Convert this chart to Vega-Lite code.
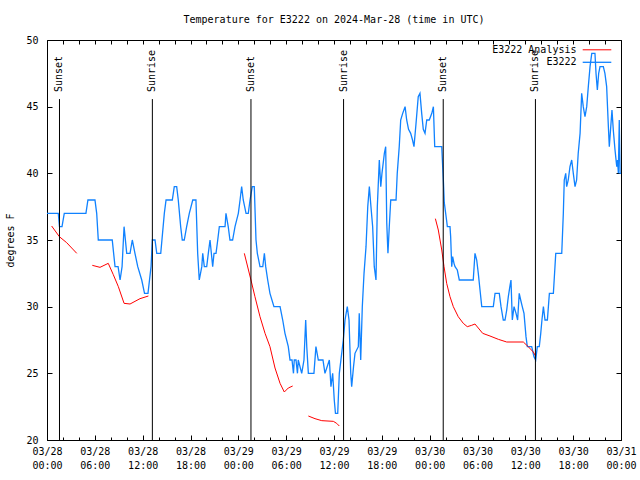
{
  "$schema": "https://vega.github.io/schema/vega-lite/v6.json",
  "width": 574,
  "height": 400,
  "autosize": "none",
  "padding": {"left": 47, "top": 40, "right": 19, "bottom": 40},
  "background": "white",
  "title": {"text": "Temperature for E3222 on 2024-Mar-28 (time in UTC)", "font": "DejaVu Sans Mono", "fontSize": 10, "fontWeight": "normal", "color": "black", "offset": 10, "anchor": "middle"},
  "config": {
    "view": {"stroke": "black", "strokeWidth": 1},
    "axis": {"labelFont": "DejaVu Sans Mono", "labelFontSize": 10, "labelColor": "black", "titleFont": "DejaVu Sans Mono", "titleFontSize": 10, "titleFontWeight": "normal", "titleColor": "black", "domain": false, "grid": false, "tickColor": "black"},
    "legend": {"labelFont": "DejaVu Sans Mono", "labelFontSize": 10, "labelColor": "black"}
  },
  "datasets": {
    "temps": [
      {"t": "2024-03-28T00:00Z", "temp": 37, "series": "E3222", "seg": "b"},
      {"t": "2024-03-28T01:25Z", "temp": 37, "series": "E3222", "seg": "b"},
      {"t": "2024-03-28T01:34Z", "temp": 36, "series": "E3222", "seg": "b"},
      {"t": "2024-03-28T01:53Z", "temp": 36, "series": "E3222", "seg": "b"},
      {"t": "2024-03-28T02:10Z", "temp": 37, "series": "E3222", "seg": "b"},
      {"t": "2024-03-28T04:53Z", "temp": 37, "series": "E3222", "seg": "b"},
      {"t": "2024-03-28T05:08Z", "temp": 38, "series": "E3222", "seg": "b"},
      {"t": "2024-03-28T06:01Z", "temp": 38, "series": "E3222", "seg": "b"},
      {"t": "2024-03-28T06:14Z", "temp": 37, "series": "E3222", "seg": "b"},
      {"t": "2024-03-28T06:26Z", "temp": 35, "series": "E3222", "seg": "b"},
      {"t": "2024-03-28T08:11Z", "temp": 35, "series": "E3222", "seg": "b"},
      {"t": "2024-03-28T08:32Z", "temp": 33, "series": "E3222", "seg": "b"},
      {"t": "2024-03-28T08:55Z", "temp": 33, "series": "E3222", "seg": "b"},
      {"t": "2024-03-28T09:10Z", "temp": 32, "series": "E3222", "seg": "b"},
      {"t": "2024-03-28T09:25Z", "temp": 33, "series": "E3222", "seg": "b"},
      {"t": "2024-03-28T09:40Z", "temp": 36, "series": "E3222", "seg": "b"},
      {"t": "2024-03-28T10:00Z", "temp": 34, "series": "E3222", "seg": "b"},
      {"t": "2024-03-28T10:25Z", "temp": 34, "series": "E3222", "seg": "b"},
      {"t": "2024-03-28T10:42Z", "temp": 35, "series": "E3222", "seg": "b"},
      {"t": "2024-03-28T11:02Z", "temp": 34, "series": "E3222", "seg": "b"},
      {"t": "2024-03-28T11:23Z", "temp": 33, "series": "E3222", "seg": "b"},
      {"t": "2024-03-28T11:53Z", "temp": 32, "series": "E3222", "seg": "b"},
      {"t": "2024-03-28T12:14Z", "temp": 31, "series": "E3222", "seg": "b"},
      {"t": "2024-03-28T12:40Z", "temp": 31, "series": "E3222", "seg": "b"},
      {"t": "2024-03-28T13:03Z", "temp": 33, "series": "E3222", "seg": "b"},
      {"t": "2024-03-28T13:13Z", "temp": 35, "series": "E3222", "seg": "b"},
      {"t": "2024-03-28T13:33Z", "temp": 35, "series": "E3222", "seg": "b"},
      {"t": "2024-03-28T13:46Z", "temp": 34, "series": "E3222", "seg": "b"},
      {"t": "2024-03-28T14:16Z", "temp": 34, "series": "E3222", "seg": "b"},
      {"t": "2024-03-28T14:43Z", "temp": 37, "series": "E3222", "seg": "b"},
      {"t": "2024-03-28T14:56Z", "temp": 38, "series": "E3222", "seg": "b"},
      {"t": "2024-03-28T15:43Z", "temp": 38, "series": "E3222", "seg": "b"},
      {"t": "2024-03-28T15:58Z", "temp": 39, "series": "E3222", "seg": "b"},
      {"t": "2024-03-28T16:16Z", "temp": 39, "series": "E3222", "seg": "b"},
      {"t": "2024-03-28T16:28Z", "temp": 38, "series": "E3222", "seg": "b"},
      {"t": "2024-03-28T16:46Z", "temp": 36, "series": "E3222", "seg": "b"},
      {"t": "2024-03-28T16:58Z", "temp": 35, "series": "E3222", "seg": "b"},
      {"t": "2024-03-28T17:13Z", "temp": 35, "series": "E3222", "seg": "b"},
      {"t": "2024-03-28T17:31Z", "temp": 36, "series": "E3222", "seg": "b"},
      {"t": "2024-03-28T17:51Z", "temp": 37, "series": "E3222", "seg": "b"},
      {"t": "2024-03-28T18:17Z", "temp": 38, "series": "E3222", "seg": "b"},
      {"t": "2024-03-28T18:41Z", "temp": 38, "series": "E3222", "seg": "b"},
      {"t": "2024-03-28T18:54Z", "temp": 34, "series": "E3222", "seg": "b"},
      {"t": "2024-03-28T19:06Z", "temp": 32, "series": "E3222", "seg": "b"},
      {"t": "2024-03-28T19:25Z", "temp": 33, "series": "E3222", "seg": "b"},
      {"t": "2024-03-28T19:32Z", "temp": 34, "series": "E3222", "seg": "b"},
      {"t": "2024-03-28T19:44Z", "temp": 33, "series": "E3222", "seg": "b"},
      {"t": "2024-03-28T20:02Z", "temp": 33, "series": "E3222", "seg": "b"},
      {"t": "2024-03-28T20:14Z", "temp": 34, "series": "E3222", "seg": "b"},
      {"t": "2024-03-28T20:27Z", "temp": 35, "series": "E3222", "seg": "b"},
      {"t": "2024-03-28T20:47Z", "temp": 33, "series": "E3222", "seg": "b"},
      {"t": "2024-03-28T20:57Z", "temp": 34, "series": "E3222", "seg": "b"},
      {"t": "2024-03-28T21:12Z", "temp": 34, "series": "E3222", "seg": "b"},
      {"t": "2024-03-28T21:25Z", "temp": 35, "series": "E3222", "seg": "b"},
      {"t": "2024-03-28T21:37Z", "temp": 36, "series": "E3222", "seg": "b"},
      {"t": "2024-03-28T22:20Z", "temp": 36, "series": "E3222", "seg": "b"},
      {"t": "2024-03-28T22:27Z", "temp": 37, "series": "E3222", "seg": "b"},
      {"t": "2024-03-28T22:44Z", "temp": 36, "series": "E3222", "seg": "b"},
      {"t": "2024-03-28T22:57Z", "temp": 35, "series": "E3222", "seg": "b"},
      {"t": "2024-03-28T23:17Z", "temp": 35, "series": "E3222", "seg": "b"},
      {"t": "2024-03-28T23:35Z", "temp": 36, "series": "E3222", "seg": "b"},
      {"t": "2024-03-29T00:00Z", "temp": 37, "series": "E3222", "seg": "b"},
      {"t": "2024-03-29T00:13Z", "temp": 38, "series": "E3222", "seg": "b"},
      {"t": "2024-03-29T00:25Z", "temp": 39, "series": "E3222", "seg": "b"},
      {"t": "2024-03-29T00:37Z", "temp": 38, "series": "E3222", "seg": "b"},
      {"t": "2024-03-29T00:58Z", "temp": 37, "series": "E3222", "seg": "b"},
      {"t": "2024-03-29T01:15Z", "temp": 37, "series": "E3222", "seg": "b"},
      {"t": "2024-03-29T01:28Z", "temp": 38, "series": "E3222", "seg": "b"},
      {"t": "2024-03-29T01:45Z", "temp": 39, "series": "E3222", "seg": "b"},
      {"t": "2024-03-29T02:00Z", "temp": 39, "series": "E3222", "seg": "b"},
      {"t": "2024-03-29T02:13Z", "temp": 35, "series": "E3222", "seg": "b"},
      {"t": "2024-03-29T02:23Z", "temp": 34, "series": "E3222", "seg": "b"},
      {"t": "2024-03-29T02:43Z", "temp": 33, "series": "E3222", "seg": "b"},
      {"t": "2024-03-29T03:04Z", "temp": 33, "series": "E3222", "seg": "b"},
      {"t": "2024-03-29T03:16Z", "temp": 34, "series": "E3222", "seg": "b"},
      {"t": "2024-03-29T03:26Z", "temp": 33, "series": "E3222", "seg": "b"},
      {"t": "2024-03-29T03:41Z", "temp": 32, "series": "E3222", "seg": "b"},
      {"t": "2024-03-29T03:58Z", "temp": 31, "series": "E3222", "seg": "b"},
      {"t": "2024-03-29T04:28Z", "temp": 30, "series": "E3222", "seg": "b"},
      {"t": "2024-03-29T05:14Z", "temp": 30, "series": "E3222", "seg": "b"},
      {"t": "2024-03-29T05:34Z", "temp": 29, "series": "E3222", "seg": "b"},
      {"t": "2024-03-29T05:51Z", "temp": 28, "series": "E3222", "seg": "b"},
      {"t": "2024-03-29T06:16Z", "temp": 27, "series": "E3222", "seg": "b"},
      {"t": "2024-03-29T06:29Z", "temp": 26, "series": "E3222", "seg": "b"},
      {"t": "2024-03-29T06:44Z", "temp": 26, "series": "E3222", "seg": "b"},
      {"t": "2024-03-29T06:55Z", "temp": 25, "series": "E3222", "seg": "b"},
      {"t": "2024-03-29T07:01Z", "temp": 26, "series": "E3222", "seg": "b"},
      {"t": "2024-03-29T07:14Z", "temp": 26, "series": "E3222", "seg": "b"},
      {"t": "2024-03-29T07:25Z", "temp": 25, "series": "E3222", "seg": "b"},
      {"t": "2024-03-29T07:31Z", "temp": 26, "series": "E3222", "seg": "b"},
      {"t": "2024-03-29T07:57Z", "temp": 25, "series": "E3222", "seg": "b"},
      {"t": "2024-03-29T08:14Z", "temp": 26, "series": "E3222", "seg": "b"},
      {"t": "2024-03-29T08:27Z", "temp": 29, "series": "E3222", "seg": "b"},
      {"t": "2024-03-29T08:35Z", "temp": 27, "series": "E3222", "seg": "b"},
      {"t": "2024-03-29T08:47Z", "temp": 25, "series": "E3222", "seg": "b"},
      {"t": "2024-03-29T09:29Z", "temp": 25, "series": "E3222", "seg": "b"},
      {"t": "2024-03-29T09:44Z", "temp": 27, "series": "E3222", "seg": "b"},
      {"t": "2024-03-29T10:02Z", "temp": 26, "series": "E3222", "seg": "b"},
      {"t": "2024-03-29T10:37Z", "temp": 26, "series": "E3222", "seg": "b"},
      {"t": "2024-03-29T10:52Z", "temp": 25, "series": "E3222", "seg": "b"},
      {"t": "2024-03-29T11:25Z", "temp": 26, "series": "E3222", "seg": "b"},
      {"t": "2024-03-29T11:37Z", "temp": 24, "series": "E3222", "seg": "b"},
      {"t": "2024-03-29T11:50Z", "temp": 25, "series": "E3222", "seg": "b"},
      {"t": "2024-03-29T12:02Z", "temp": 23, "series": "E3222", "seg": "b"},
      {"t": "2024-03-29T12:11Z", "temp": 22, "series": "E3222", "seg": "b"},
      {"t": "2024-03-29T12:28Z", "temp": 22, "series": "E3222", "seg": "b"},
      {"t": "2024-03-29T12:40Z", "temp": 25, "series": "E3222", "seg": "b"},
      {"t": "2024-03-29T12:58Z", "temp": 26.5, "series": "E3222", "seg": "b"},
      {"t": "2024-03-29T13:10Z", "temp": 27.5, "series": "E3222", "seg": "b"},
      {"t": "2024-03-29T13:23Z", "temp": 29, "series": "E3222", "seg": "b"},
      {"t": "2024-03-29T13:40Z", "temp": 30, "series": "E3222", "seg": "b"},
      {"t": "2024-03-29T13:53Z", "temp": 29, "series": "E3222", "seg": "b"},
      {"t": "2024-03-29T14:06Z", "temp": 25, "series": "E3222", "seg": "b"},
      {"t": "2024-03-29T14:13Z", "temp": 24, "series": "E3222", "seg": "b"},
      {"t": "2024-03-29T14:27Z", "temp": 25.5, "series": "E3222", "seg": "b"},
      {"t": "2024-03-29T14:38Z", "temp": 26.5, "series": "E3222", "seg": "b"},
      {"t": "2024-03-29T15:03Z", "temp": 27, "series": "E3222", "seg": "b"},
      {"t": "2024-03-29T15:10Z", "temp": 29.5, "series": "E3222", "seg": "b"},
      {"t": "2024-03-29T15:21Z", "temp": 26, "series": "E3222", "seg": "b"},
      {"t": "2024-03-29T15:33Z", "temp": 30, "series": "E3222", "seg": "b"},
      {"t": "2024-03-29T15:46Z", "temp": 32.5, "series": "E3222", "seg": "b"},
      {"t": "2024-03-29T16:01Z", "temp": 34.5, "series": "E3222", "seg": "b"},
      {"t": "2024-03-29T16:14Z", "temp": 37.5, "series": "E3222", "seg": "b"},
      {"t": "2024-03-29T16:26Z", "temp": 39, "series": "E3222", "seg": "b"},
      {"t": "2024-03-29T16:38Z", "temp": 37.5, "series": "E3222", "seg": "b"},
      {"t": "2024-03-29T16:51Z", "temp": 36, "series": "E3222", "seg": "b"},
      {"t": "2024-03-29T17:03Z", "temp": 33, "series": "E3222", "seg": "b"},
      {"t": "2024-03-29T17:16Z", "temp": 32, "series": "E3222", "seg": "b"},
      {"t": "2024-03-29T17:26Z", "temp": 37.5, "series": "E3222", "seg": "b"},
      {"t": "2024-03-29T17:41Z", "temp": 41, "series": "E3222", "seg": "b"},
      {"t": "2024-03-29T17:52Z", "temp": 39, "series": "E3222", "seg": "b"},
      {"t": "2024-03-29T18:01Z", "temp": 40, "series": "E3222", "seg": "b"},
      {"t": "2024-03-29T18:19Z", "temp": 41.5, "series": "E3222", "seg": "b"},
      {"t": "2024-03-29T18:29Z", "temp": 42, "series": "E3222", "seg": "b"},
      {"t": "2024-03-29T18:37Z", "temp": 36.3, "series": "E3222", "seg": "b"},
      {"t": "2024-03-29T18:46Z", "temp": 34, "series": "E3222", "seg": "b"},
      {"t": "2024-03-29T18:56Z", "temp": 36, "series": "E3222", "seg": "b"},
      {"t": "2024-03-29T19:07Z", "temp": 38, "series": "E3222", "seg": "b"},
      {"t": "2024-03-29T19:47Z", "temp": 38, "series": "E3222", "seg": "b"},
      {"t": "2024-03-29T19:56Z", "temp": 40, "series": "E3222", "seg": "b"},
      {"t": "2024-03-29T20:11Z", "temp": 42, "series": "E3222", "seg": "b"},
      {"t": "2024-03-29T20:22Z", "temp": 44, "series": "E3222", "seg": "b"},
      {"t": "2024-03-29T20:37Z", "temp": 44.5, "series": "E3222", "seg": "b"},
      {"t": "2024-03-29T20:55Z", "temp": 45, "series": "E3222", "seg": "b"},
      {"t": "2024-03-29T21:07Z", "temp": 44, "series": "E3222", "seg": "b"},
      {"t": "2024-03-29T21:21Z", "temp": 43.3, "series": "E3222", "seg": "b"},
      {"t": "2024-03-29T21:37Z", "temp": 43, "series": "E3222", "seg": "b"},
      {"t": "2024-03-29T21:51Z", "temp": 42.5, "series": "E3222", "seg": "b"},
      {"t": "2024-03-29T22:02Z", "temp": 42, "series": "E3222", "seg": "b"},
      {"t": "2024-03-29T22:17Z", "temp": 43.7, "series": "E3222", "seg": "b"},
      {"t": "2024-03-29T22:34Z", "temp": 45.75, "series": "E3222", "seg": "b"},
      {"t": "2024-03-29T22:47Z", "temp": 46, "series": "E3222", "seg": "b"},
      {"t": "2024-03-29T23:00Z", "temp": 44.5, "series": "E3222", "seg": "b"},
      {"t": "2024-03-29T23:12Z", "temp": 43.3, "series": "E3222", "seg": "b"},
      {"t": "2024-03-29T23:25Z", "temp": 43, "series": "E3222", "seg": "b"},
      {"t": "2024-03-29T23:38Z", "temp": 44, "series": "E3222", "seg": "b"},
      {"t": "2024-03-29T23:57Z", "temp": 44, "series": "E3222", "seg": "b"},
      {"t": "2024-03-30T00:16Z", "temp": 44.5, "series": "E3222", "seg": "b"},
      {"t": "2024-03-30T00:28Z", "temp": 45, "series": "E3222", "seg": "b"},
      {"t": "2024-03-30T00:38Z", "temp": 42, "series": "E3222", "seg": "b"},
      {"t": "2024-03-30T01:31Z", "temp": 42, "series": "E3222", "seg": "b"},
      {"t": "2024-03-30T01:38Z", "temp": 40.5, "series": "E3222", "seg": "b"},
      {"t": "2024-03-30T01:43Z", "temp": 39.5, "series": "E3222", "seg": "b"},
      {"t": "2024-03-30T01:50Z", "temp": 37.8, "series": "E3222", "seg": "b"},
      {"t": "2024-03-30T02:07Z", "temp": 36.5, "series": "E3222", "seg": "b"},
      {"t": "2024-03-30T02:13Z", "temp": 36, "series": "E3222", "seg": "b"},
      {"t": "2024-03-30T02:33Z", "temp": 36, "series": "E3222", "seg": "b"},
      {"t": "2024-03-30T02:38Z", "temp": 35.25, "series": "E3222", "seg": "b"},
      {"t": "2024-03-30T02:46Z", "temp": 33, "series": "E3222", "seg": "b"},
      {"t": "2024-03-30T02:53Z", "temp": 33.75, "series": "E3222", "seg": "b"},
      {"t": "2024-03-30T03:03Z", "temp": 33.25, "series": "E3222", "seg": "b"},
      {"t": "2024-03-30T03:11Z", "temp": 33, "series": "E3222", "seg": "b"},
      {"t": "2024-03-30T03:28Z", "temp": 32.75, "series": "E3222", "seg": "b"},
      {"t": "2024-03-30T03:43Z", "temp": 32, "series": "E3222", "seg": "b"},
      {"t": "2024-03-30T05:28Z", "temp": 32, "series": "E3222", "seg": "b"},
      {"t": "2024-03-30T05:41Z", "temp": 34, "series": "E3222", "seg": "b"},
      {"t": "2024-03-30T05:54Z", "temp": 33.5, "series": "E3222", "seg": "b"},
      {"t": "2024-03-30T06:06Z", "temp": 32.5, "series": "E3222", "seg": "b"},
      {"t": "2024-03-30T06:19Z", "temp": 31.25, "series": "E3222", "seg": "b"},
      {"t": "2024-03-30T06:32Z", "temp": 30, "series": "E3222", "seg": "b"},
      {"t": "2024-03-30T07:59Z", "temp": 30, "series": "E3222", "seg": "b"},
      {"t": "2024-03-30T08:12Z", "temp": 31, "series": "E3222", "seg": "b"},
      {"t": "2024-03-30T08:44Z", "temp": 31, "series": "E3222", "seg": "b"},
      {"t": "2024-03-30T08:57Z", "temp": 30, "series": "E3222", "seg": "b"},
      {"t": "2024-03-30T09:14Z", "temp": 29, "series": "E3222", "seg": "b"},
      {"t": "2024-03-30T09:27Z", "temp": 29, "series": "E3222", "seg": "b"},
      {"t": "2024-03-30T09:40Z", "temp": 29.75, "series": "E3222", "seg": "b"},
      {"t": "2024-03-30T09:52Z", "temp": 30.75, "series": "E3222", "seg": "b"},
      {"t": "2024-03-30T10:05Z", "temp": 31.6, "series": "E3222", "seg": "b"},
      {"t": "2024-03-30T10:12Z", "temp": 32, "series": "E3222", "seg": "b"},
      {"t": "2024-03-30T10:22Z", "temp": 29, "series": "E3222", "seg": "b"},
      {"t": "2024-03-30T10:35Z", "temp": 30, "series": "E3222", "seg": "b"},
      {"t": "2024-03-30T10:50Z", "temp": 29.5, "series": "E3222", "seg": "b"},
      {"t": "2024-03-30T11:02Z", "temp": 29, "series": "E3222", "seg": "b"},
      {"t": "2024-03-30T11:14Z", "temp": 31, "series": "E3222", "seg": "b"},
      {"t": "2024-03-30T11:25Z", "temp": 30.5, "series": "E3222", "seg": "b"},
      {"t": "2024-03-30T11:37Z", "temp": 30, "series": "E3222", "seg": "b"},
      {"t": "2024-03-30T11:50Z", "temp": 29.5, "series": "E3222", "seg": "b"},
      {"t": "2024-03-30T12:05Z", "temp": 27.75, "series": "E3222", "seg": "b"},
      {"t": "2024-03-30T12:15Z", "temp": 27, "series": "E3222", "seg": "b"},
      {"t": "2024-03-30T12:48Z", "temp": 27, "series": "E3222", "seg": "b"},
      {"t": "2024-03-30T13:05Z", "temp": 26.25, "series": "E3222", "seg": "b"},
      {"t": "2024-03-30T13:18Z", "temp": 26, "series": "E3222", "seg": "b"},
      {"t": "2024-03-30T13:30Z", "temp": 27, "series": "E3222", "seg": "b"},
      {"t": "2024-03-30T13:45Z", "temp": 27, "series": "E3222", "seg": "b"},
      {"t": "2024-03-30T13:56Z", "temp": 28, "series": "E3222", "seg": "b"},
      {"t": "2024-03-30T14:05Z", "temp": 29, "series": "E3222", "seg": "b"},
      {"t": "2024-03-30T14:16Z", "temp": 30, "series": "E3222", "seg": "b"},
      {"t": "2024-03-30T14:28Z", "temp": 29, "series": "E3222", "seg": "b"},
      {"t": "2024-03-30T14:46Z", "temp": 29, "series": "E3222", "seg": "b"},
      {"t": "2024-03-30T15:01Z", "temp": 31, "series": "E3222", "seg": "b"},
      {"t": "2024-03-30T15:31Z", "temp": 31, "series": "E3222", "seg": "b"},
      {"t": "2024-03-30T15:43Z", "temp": 33, "series": "E3222", "seg": "b"},
      {"t": "2024-03-30T15:49Z", "temp": 34, "series": "E3222", "seg": "b"},
      {"t": "2024-03-30T16:34Z", "temp": 34, "series": "E3222", "seg": "b"},
      {"t": "2024-03-30T16:38Z", "temp": 35, "series": "E3222", "seg": "b"},
      {"t": "2024-03-30T16:46Z", "temp": 37, "series": "E3222", "seg": "b"},
      {"t": "2024-03-30T16:53Z", "temp": 39.5, "series": "E3222", "seg": "b"},
      {"t": "2024-03-30T17:04Z", "temp": 40, "series": "E3222", "seg": "b"},
      {"t": "2024-03-30T17:11Z", "temp": 39, "series": "E3222", "seg": "b"},
      {"t": "2024-03-30T17:23Z", "temp": 39.5, "series": "E3222", "seg": "b"},
      {"t": "2024-03-30T17:36Z", "temp": 40.5, "series": "E3222", "seg": "b"},
      {"t": "2024-03-30T17:49Z", "temp": 41, "series": "E3222", "seg": "b"},
      {"t": "2024-03-30T18:01Z", "temp": 40, "series": "E3222", "seg": "b"},
      {"t": "2024-03-30T18:14Z", "temp": 39, "series": "E3222", "seg": "b"},
      {"t": "2024-03-30T18:26Z", "temp": 39.5, "series": "E3222", "seg": "b"},
      {"t": "2024-03-30T18:38Z", "temp": 41.5, "series": "E3222", "seg": "b"},
      {"t": "2024-03-30T18:52Z", "temp": 43, "series": "E3222", "seg": "b"},
      {"t": "2024-03-30T19:04Z", "temp": 46, "series": "E3222", "seg": "b"},
      {"t": "2024-03-30T19:16Z", "temp": 45, "series": "E3222", "seg": "b"},
      {"t": "2024-03-30T19:29Z", "temp": 44.25, "series": "E3222", "seg": "b"},
      {"t": "2024-03-30T19:42Z", "temp": 45, "series": "E3222", "seg": "b"},
      {"t": "2024-03-30T19:54Z", "temp": 46.5, "series": "E3222", "seg": "b"},
      {"t": "2024-03-30T20:07Z", "temp": 48, "series": "E3222", "seg": "b"},
      {"t": "2024-03-30T20:20Z", "temp": 49, "series": "E3222", "seg": "b"},
      {"t": "2024-03-30T20:44Z", "temp": 49, "series": "E3222", "seg": "b"},
      {"t": "2024-03-30T20:52Z", "temp": 47.5, "series": "E3222", "seg": "b"},
      {"t": "2024-03-30T21:02Z", "temp": 46.25, "series": "E3222", "seg": "b"},
      {"t": "2024-03-30T21:12Z", "temp": 47.5, "series": "E3222", "seg": "b"},
      {"t": "2024-03-30T21:22Z", "temp": 48, "series": "E3222", "seg": "b"},
      {"t": "2024-03-30T21:47Z", "temp": 48, "series": "E3222", "seg": "b"},
      {"t": "2024-03-30T21:59Z", "temp": 47.5, "series": "E3222", "seg": "b"},
      {"t": "2024-03-30T22:12Z", "temp": 46.5, "series": "E3222", "seg": "b"},
      {"t": "2024-03-30T22:25Z", "temp": 43.5, "series": "E3222", "seg": "b"},
      {"t": "2024-03-30T22:32Z", "temp": 42, "series": "E3222", "seg": "b"},
      {"t": "2024-03-30T22:43Z", "temp": 43.5, "series": "E3222", "seg": "b"},
      {"t": "2024-03-30T22:52Z", "temp": 44.75, "series": "E3222", "seg": "b"},
      {"t": "2024-03-30T23:02Z", "temp": 43.25, "series": "E3222", "seg": "b"},
      {"t": "2024-03-30T23:15Z", "temp": 41.75, "series": "E3222", "seg": "b"},
      {"t": "2024-03-30T23:28Z", "temp": 40.5, "series": "E3222", "seg": "b"},
      {"t": "2024-03-30T23:34Z", "temp": 41, "series": "E3222", "seg": "b"},
      {"t": "2024-03-30T23:40Z", "temp": 40, "series": "E3222", "seg": "b"},
      {"t": "2024-03-30T23:47Z", "temp": 44, "series": "E3222", "seg": "b"},
      {"t": "2024-03-30T23:53Z", "temp": 40, "series": "E3222", "seg": "b"},
      {"t": "2024-03-31T00:00Z", "temp": 40, "series": "E3222", "seg": "b"},
      {"t": "2024-03-28T00:35Z", "temp": 36.05, "series": "E3222 Analysis", "seg": "a1"},
      {"t": "2024-03-28T01:33Z", "temp": 35.25, "series": "E3222 Analysis", "seg": "a1"},
      {"t": "2024-03-28T02:28Z", "temp": 34.8, "series": "E3222 Analysis", "seg": "a1"},
      {"t": "2024-03-28T03:44Z", "temp": 34.0, "series": "E3222 Analysis", "seg": "a1"},
      {"t": "2024-03-28T05:41Z", "temp": 33.1, "series": "E3222 Analysis", "seg": "a2"},
      {"t": "2024-03-28T06:39Z", "temp": 32.95, "series": "E3222 Analysis", "seg": "a2"},
      {"t": "2024-03-28T07:41Z", "temp": 33.25, "series": "E3222 Analysis", "seg": "a2"},
      {"t": "2024-03-28T08:19Z", "temp": 32.4, "series": "E3222 Analysis", "seg": "a2"},
      {"t": "2024-03-28T08:57Z", "temp": 31.5, "series": "E3222 Analysis", "seg": "a2"},
      {"t": "2024-03-28T09:40Z", "temp": 30.25, "series": "E3222 Analysis", "seg": "a2"},
      {"t": "2024-03-28T10:25Z", "temp": 30.2, "series": "E3222 Analysis", "seg": "a2"},
      {"t": "2024-03-28T11:40Z", "temp": 30.6, "series": "E3222 Analysis", "seg": "a2"},
      {"t": "2024-03-28T12:43Z", "temp": 30.8, "series": "E3222 Analysis", "seg": "a2"},
      {"t": "2024-03-29T00:45Z", "temp": 34.0, "series": "E3222 Analysis", "seg": "a3"},
      {"t": "2024-03-29T01:35Z", "temp": 32.0, "series": "E3222 Analysis", "seg": "a3"},
      {"t": "2024-03-29T02:05Z", "temp": 30.75, "series": "E3222 Analysis", "seg": "a3"},
      {"t": "2024-03-29T02:43Z", "temp": 29.25, "series": "E3222 Analysis", "seg": "a3"},
      {"t": "2024-03-29T03:21Z", "temp": 28.0, "series": "E3222 Analysis", "seg": "a3"},
      {"t": "2024-03-29T03:58Z", "temp": 27.0, "series": "E3222 Analysis", "seg": "a3"},
      {"t": "2024-03-29T04:36Z", "temp": 25.4, "series": "E3222 Analysis", "seg": "a3"},
      {"t": "2024-03-29T05:14Z", "temp": 24.25, "series": "E3222 Analysis", "seg": "a3"},
      {"t": "2024-03-29T05:46Z", "temp": 23.6, "series": "E3222 Analysis", "seg": "a3"},
      {"t": "2024-03-29T06:16Z", "temp": 23.9, "series": "E3222 Analysis", "seg": "a3"},
      {"t": "2024-03-29T06:49Z", "temp": 24.05, "series": "E3222 Analysis", "seg": "a3"},
      {"t": "2024-03-29T08:47Z", "temp": 21.8, "series": "E3222 Analysis", "seg": "a4"},
      {"t": "2024-03-29T09:37Z", "temp": 21.6, "series": "E3222 Analysis", "seg": "a4"},
      {"t": "2024-03-29T10:28Z", "temp": 21.45, "series": "E3222 Analysis", "seg": "a4"},
      {"t": "2024-03-29T11:55Z", "temp": 21.4, "series": "E3222 Analysis", "seg": "a4"},
      {"t": "2024-03-29T12:20Z", "temp": 21.25, "series": "E3222 Analysis", "seg": "a4"},
      {"t": "2024-03-29T12:40Z", "temp": 21.05, "series": "E3222 Analysis", "seg": "a4"},
      {"t": "2024-03-30T00:43Z", "temp": 36.6, "series": "E3222 Analysis", "seg": "a5"},
      {"t": "2024-03-30T01:05Z", "temp": 35.75, "series": "E3222 Analysis", "seg": "a5"},
      {"t": "2024-03-30T01:31Z", "temp": 34.25, "series": "E3222 Analysis", "seg": "a5"},
      {"t": "2024-03-30T01:48Z", "temp": 33.0, "series": "E3222 Analysis", "seg": "a5"},
      {"t": "2024-03-30T02:08Z", "temp": 31.75, "series": "E3222 Analysis", "seg": "a5"},
      {"t": "2024-03-30T02:33Z", "temp": 30.75, "series": "E3222 Analysis", "seg": "a5"},
      {"t": "2024-03-30T02:58Z", "temp": 30.0, "series": "E3222 Analysis", "seg": "a5"},
      {"t": "2024-03-30T03:35Z", "temp": 29.25, "series": "E3222 Analysis", "seg": "a5"},
      {"t": "2024-03-30T04:13Z", "temp": 28.75, "series": "E3222 Analysis", "seg": "a5"},
      {"t": "2024-03-30T04:43Z", "temp": 28.5, "series": "E3222 Analysis", "seg": "a5"},
      {"t": "2024-03-30T05:16Z", "temp": 28.6, "series": "E3222 Analysis", "seg": "a5"},
      {"t": "2024-03-30T05:41Z", "temp": 28.7, "series": "E3222 Analysis", "seg": "a5"},
      {"t": "2024-03-30T06:39Z", "temp": 28.0, "series": "E3222 Analysis", "seg": "a5"},
      {"t": "2024-03-30T07:34Z", "temp": 27.8, "series": "E3222 Analysis", "seg": "a5"},
      {"t": "2024-03-30T08:37Z", "temp": 27.55, "series": "E3222 Analysis", "seg": "a5"},
      {"t": "2024-03-30T09:40Z", "temp": 27.35, "series": "E3222 Analysis", "seg": "a5"},
      {"t": "2024-03-30T11:45Z", "temp": 27.35, "series": "E3222 Analysis", "seg": "a5"},
      {"t": "2024-03-30T12:22Z", "temp": 27.0, "series": "E3222 Analysis", "seg": "a5"},
      {"t": "2024-03-30T13:00Z", "temp": 26.6, "series": "E3222 Analysis", "seg": "a5"},
      {"t": "2024-03-30T13:17Z", "temp": 26.3, "series": "E3222 Analysis", "seg": "a5"}
    ],
    "events": [
      {"t": "2024-03-28T01:34Z", "event": "Sunset"},
      {"t": "2024-03-28T13:13Z", "event": "Sunrise"},
      {"t": "2024-03-29T01:35Z", "event": "Sunset"},
      {"t": "2024-03-29T13:12Z", "event": "Sunrise"},
      {"t": "2024-03-30T01:42Z", "event": "Sunset"},
      {"t": "2024-03-30T13:16Z", "event": "Sunrise"}
    ]
  },
  "layer": [
    {
      "data": {"name": "temps"},
      "mark": {"type": "line", "interpolate": "linear"},
      "encoding": {
        "x": {
          "field": "t", "type": "temporal",
          "scale": {"type": "utc", "domain": [1711584000000, 1711843200000], "nice": false},
          "axis": {
            "orient": "bottom", "title": null,
            "values": [1711584000000, 1711605600000, 1711627200000, 1711648800000, 1711670400000, 1711692000000, 1711713600000, 1711735200000, 1711756800000, 1711778400000, 1711800000000, 1711821600000, 1711843200000],
            "tickSize": -5,
            "labelExpr": "[utcFormat(datum.value, '%m/%d'), utcFormat(datum.value, '%H:%M')]",
            "labelPadding": 11, "labelLineHeight": 14, "labelFlush": false, "labelOverlap": false, "labelBound": false
          }
        },
        "y": {
          "field": "temp", "type": "quantitative",
          "scale": {"domain": [20, 50], "nice": false, "zero": false},
          "axis": {"orient": "left", "title": "degrees F", "values": [20, 25, 30, 35, 40, 45, 50], "tickSize": -5, "labelPadding": 14, "titlePadding": 10}
        },
        "color": {
          "field": "series", "type": "nominal",
          "scale": {"domain": ["E3222 Analysis", "E3222"], "range": ["#ff0000", "#1082ff"]},
          "legend": {"title": null, "orient": "none", "legendX": 542.5, "legendY": 2.8, "symbolType": "M-2.2,0H2.2", "symbolSize": 169, "symbolStrokeWidth": 1.2, "labelAlign": "right", "labelOffset": -28, "rowPadding": 0, "padding": 0}
        },
        "detail": {"field": "seg"},
        "strokeWidth": {"field": "series", "type": "nominal", "scale": {"domain": ["E3222 Analysis", "E3222"], "range": [1, 1.3]}, "legend": null}
      }
    },
    {
      "data": {"name": "events"},
      "mark": {"type": "rule", "color": "black", "strokeWidth": 1},
      "encoding": {
        "x": {
          "field": "t", "type": "temporal",
          "axis": {"orient": "top", "title": null, "labels": false, "values": [1711584000000, 1711591200000, 1711598400000, 1711605600000, 1711612800000, 1711620000000, 1711627200000, 1711634400000, 1711641600000, 1711648800000, 1711656000000, 1711663200000, 1711670400000, 1711677600000, 1711684800000, 1711692000000, 1711699200000, 1711706400000, 1711713600000, 1711720800000, 1711728000000, 1711735200000, 1711742400000, 1711749600000, 1711756800000, 1711764000000, 1711771200000, 1711778400000, 1711785600000, 1711792800000, 1711800000000, 1711807200000, 1711814400000, 1711821600000, 1711828800000, 1711836000000, 1711843200000], "tickSize": -4}
        },
        "y": {"datum": 45.57, "type": "quantitative", "axis": {"orient": "right", "title": null, "labels": false, "values": [20, 25, 30, 35, 40, 45, 50], "tickSize": -5}},
        "y2": {"datum": 20}
      }
    },
    {
      "data": {"name": "events"},
      "mark": {"type": "text", "angle": 270, "align": "left", "baseline": "middle", "dx": 7, "font": "DejaVu Sans Mono", "fontSize": 10, "color": "black"},
      "encoding": {
        "x": {"field": "t", "type": "temporal", "axis": {"orient": "bottom", "title": null, "labels": false, "values": [1711584000000, 1711591200000, 1711598400000, 1711605600000, 1711612800000, 1711620000000, 1711627200000, 1711634400000, 1711641600000, 1711648800000, 1711656000000, 1711663200000, 1711670400000, 1711677600000, 1711684800000, 1711692000000, 1711699200000, 1711706400000, 1711713600000, 1711720800000, 1711728000000, 1711735200000, 1711742400000, 1711749600000, 1711756800000, 1711764000000, 1711771200000, 1711778400000, 1711785600000, 1711792800000, 1711800000000, 1711807200000, 1711814400000, 1711821600000, 1711828800000, 1711836000000, 1711843200000], "tickSize": -3}},
        "y": {"datum": 45.57, "type": "quantitative", "axis": null},
        "text": {"field": "event"}
      }
    }
  ],
  "resolve": {"axis": {"x": "independent", "y": "independent"}}
}
